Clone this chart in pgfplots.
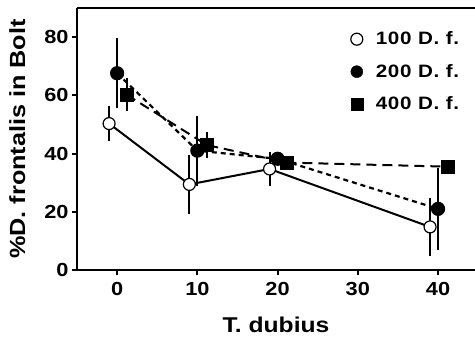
\documentclass[border=0pt]{standalone}
\usepackage{fontspec}
\setmainfont{Liberation Sans}[FakeStretch=1.15]
\usepackage{pgfplots}
\pgfplotsset{compat=1.18}
\usepackage{pgfplotstable}
\pgfplotstableread{
x y e
-1 50.3 6
9 29.4 10
19 34.7 6
39 14.8 10
}\dfa
\pgfplotstableread{
x y e
0 67.6 12
10 41.0 12
20 38.2 2
40 21.0 14
}\dfb
\pgfplotstableread{
x y e
1.2 60.2 5.6
11.2 42.9 4.5
21.2 36.9 1.5
41.2 35.5 1
}\dfc
\begin{document}
\begin{tikzpicture}
\begin{axis}[
  scale only axis, width=398bp, height=262bp,
  xmin=-5, xmax=44.6, ymin=0, ymax=90,
  axis x line*=box, axis y line*=left,
  every non boxed y axis/.style={y axis line style={-}},
  axis line style={line width=2.4bp, black},
  xtick={0,10,20,30,40}, ytick={0,20,40,60,80},
  xtick pos=bottom, ytick pos=left,
  tick align=outside, major tick length=5bp,
  tick style={line width=2bp, black},
  /pgf/number format/assume math mode=true,
  ticklabel style={font=\fontsize{19}{19}\selectfont\bfseries},
  xticklabel style={yshift=-4bp},
  xlabel={T. dubius}, ylabel={\%D. frontalis in Bolt},
  xlabel style={font=\fontsize{21.5}{21.5}\selectfont\bfseries, at={(axis description cs:0.5,0)}, anchor=north, yshift=-43bp},
  ylabel style={font=\fontsize{22}{22}\selectfont\bfseries, yshift=12bp},
  legend style={draw=none, fill=none, at={(rel axis cs:0.6875,0.917)}, anchor=north west,
    font=\fontsize{18}{18}\selectfont\bfseries\addfontfeatures{LetterSpace=4}, row sep=14bp, inner sep=0pt},
  legend cell align=left,
  clip=false,
]
\addlegendimage{only marks, mark=*, mark size=6bp, mark options={fill=white, draw=black, line width=1.2bp}}
\addlegendentry{\hspace{11bp}100 D. f.}
\addlegendimage{only marks, mark=*, mark size=6bp, mark options={fill=black, draw=black}}
\addlegendentry{\hspace{11bp}200 D. f.}
\addlegendimage{only marks, mark=square*, mark size=6bp, mark options={fill=black, draw=black}}
\addlegendentry{\hspace{11bp}400 D. f.}

\addplot[forget plot, black, line width=2bp, dash pattern=on 10bp off 6bp,
  mark=square*, mark size=6bp, mark options={solid, fill=black},
  error bars/.cd, y dir=both, y explicit, error mark=none,
  error bar style={line width=2bp, solid}]
  table[x=x, y=y, y error=e] {\dfc};
\addplot[forget plot, black, line width=2.2bp, dash pattern=on 5bp off 4bp,
  mark=*, mark size=6bp, mark options={solid, fill=black},
  error bars/.cd, y dir=both, y explicit, error mark=none,
  error bar style={line width=2bp, solid}]
  table[x=x, y=y, y error=e] {\dfb};
\addplot[forget plot, black, line width=2bp,
  mark=*, mark size=6bp, mark options={solid, fill=white, line width=1.2bp},
  error bars/.cd, y dir=both, y explicit, error mark=none,
  error bar style={line width=2bp, solid}]
  table[x=x, y=y, y error=e] {\dfa};
\end{axis}
\pgfresetboundingbox
\path (-77bp,-72bp) rectangle (398bp,270bp);
\end{tikzpicture}
\end{document}
